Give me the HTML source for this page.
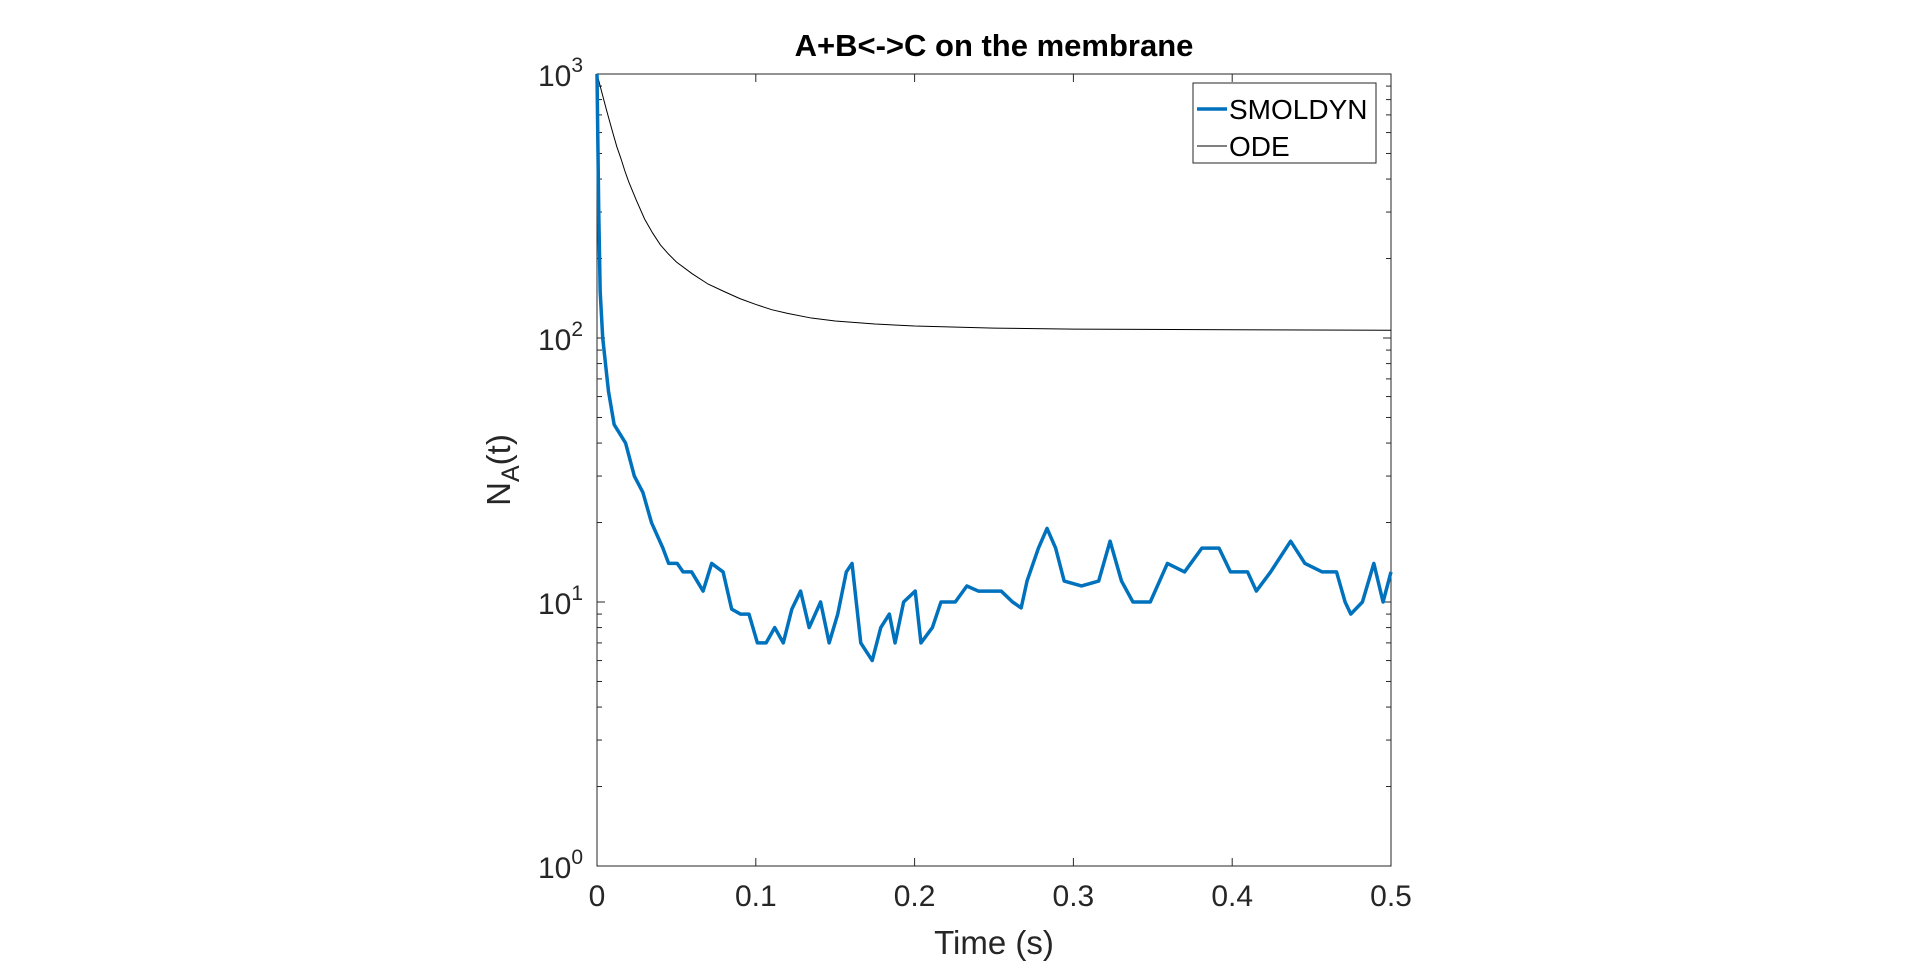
<!DOCTYPE html>
<html><head><meta charset="utf-8"><style>
html,body{margin:0;padding:0;background:#fff;}
svg{display:block;font-family:"Liberation Sans",Arial,sans-serif;}
</style></head><body>
<svg id="chart" width="1920" height="973" viewBox="0 0 1920 973" xmlns="http://www.w3.org/2000/svg">
<rect width="1920" height="973" fill="#fff"/>
<text x="994" y="56" text-anchor="middle" font-size="31" font-weight="bold" fill="#000">A+B&lt;-&gt;C on the membrane</text>
<g id="axes"></g>
<g id="series"></g>
<text x="994" y="954" text-anchor="middle" font-size="33" fill="#262626">Time (s)</text>
<text transform="translate(510,470) rotate(-90)" text-anchor="middle" font-size="33" fill="#262626">N<tspan font-size="25" dy="9">A</tspan><tspan dy="-9">(t)</tspan></text>
<g>
<rect x="1193" y="83" width="183" height="80" fill="#fff" stroke="#262626" stroke-width="1"/>
<line x1="1197" y1="109" x2="1227" y2="109" stroke="#0072BD" stroke-width="3.5"/>
<text x="1229" y="119" font-size="28" fill="#000">SMOLDYN</text>
<line x1="1197" y1="146" x2="1227" y2="146" stroke="#000" stroke-width="1"/>
<text x="1229" y="156" font-size="28" fill="#000">ODE</text>
</g>
</svg>
<script>
const xTicks=[0,0.1,0.2,0.3,0.4,0.5];
const xTickLabels=["0","0.1","0.2","0.3","0.4","0.5"];
const yDecades=[0,1,2,3];
const odeT=[0,0.002,0.004,0.006,0.008,0.01,0.0125,0.015,0.0175,0.02,0.025,0.03,0.035,0.04,0.045,0.05,0.06,0.07,0.08,0.09,0.1,0.11,0.12,0.135,0.15,0.175,0.2,0.25,0.3,0.4,0.5];
const odeV=[1000,900,810,730,660,598,530,480,430,390,330,282,250,225,208,194,175,160,150,141,134,128,124,119,116,113,111,109,108,107.5,107];
const smT=[0,0.0011,0.002,0.0036,0.0072,0.0108,0.018,0.0235,0.0289,0.0343,0.0415,0.0451,0.0505,0.0542,0.0596,0.0668,0.0722,0.0794,0.0848,0.0903,0.0957,0.101,0.1065,0.1119,0.1173,0.1227,0.1282,0.1336,0.1408,0.1462,0.1516,0.157,0.1606,0.1661,0.1733,0.1787,0.1841,0.1877,0.1931,0.2004,0.204,0.2112,0.2166,0.2256,0.2329,0.2401,0.2545,0.2617,0.2671,0.2708,0.278,0.2834,0.2888,0.2942,0.3051,0.3159,0.3231,0.3303,0.3375,0.3484,0.3592,0.37,0.3809,0.3917,0.3989,0.4097,0.4152,0.4242,0.4368,0.4458,0.4567,0.4657,0.4711,0.4747,0.482,0.4892,0.495,0.5];
const smV=[1000,300,150,100,63,47,40,30,26,20,16,14,14,13,13,11,14,13,9.4,9,9,7,7,8,7,9.4,11,8,10,7,9,13,14,7,6,8,9,7,10,11,7,8,10,10,11.5,11,11,10,9.5,12,16,19,16,12,11.5,12,17,12,10,10,14,13,16,16,13,13,11,13,17,14,13,13,10,9,10,14,10,13];

const L=597,R=1391,T=74,B=866;
const xs=t=>L+(t-0)/(0.5)*(R-L);
const ys=v=>B-(Math.log10(v)-0)/3*(B-T);
const NS="http://www.w3.org/2000/svg";
const ax=document.getElementById('axes');
function mk(tag,attrs,parent){const e=document.createElementNS(NS,tag);for(const k in attrs)e.setAttribute(k,attrs[k]);parent.appendChild(e);return e;}
const frame=mk('rect',{x:L,y:T,width:R-L,height:B-T,fill:'none',stroke:'#262626','stroke-width':1},ax);


xTicks.forEach((t,i)=>{
  const x=xs(t);
  mk('line',{x1:x,y1:B,x2:x,y2:B-8,stroke:'#262626'},ax);
  mk('line',{x1:x,y1:T,x2:x,y2:T+8,stroke:'#262626'},ax);
  const tx=mk('text',{x:x,y:B+40,'text-anchor':'middle','font-size':30,fill:'#262626'},ax);
  tx.textContent=xTickLabels[i];
  
  
});
yDecades.forEach(d=>{
  const y=ys(Math.pow(10,d));
  mk('line',{x1:L,y1:y,x2:L+8,y2:y,stroke:'#262626'},ax);
  mk('line',{x1:R,y1:y,x2:R-8,y2:y,stroke:'#262626'},ax);
  const tx=mk('text',{x:L-14,y:y+12,'text-anchor':'end','font-size':30,fill:'#262626'},ax);
  
  
  tx.textContent='10';
  const sup=mk('tspan',{'font-size':21,dy:-14},tx);sup.textContent=String(d);
  if(d<3){for(let m=2;m<=9;m++){const yy=ys(m*Math.pow(10,d));
    mk('line',{x1:L,y1:yy,x2:L+5,y2:yy,stroke:'#262626'},ax);
    mk('line',{x1:R,y1:yy,x2:R-5,y2:yy,stroke:'#262626'},ax);}}
});
const sg=document.getElementById('series');
const ode=mk('polyline',{points:odeT.map((t,i)=>xs(t)+','+ys(odeV[i])).join(' '),fill:'none',stroke:'#000','stroke-width':1},sg);


const sm=mk('polyline',{points:smT.map((t,i)=>xs(t)+','+ys(smV[i])).join(' '),fill:'none',stroke:'#0072BD','stroke-width':3.5,'stroke-linejoin':'round'},sg);


</script>
</body></html>
